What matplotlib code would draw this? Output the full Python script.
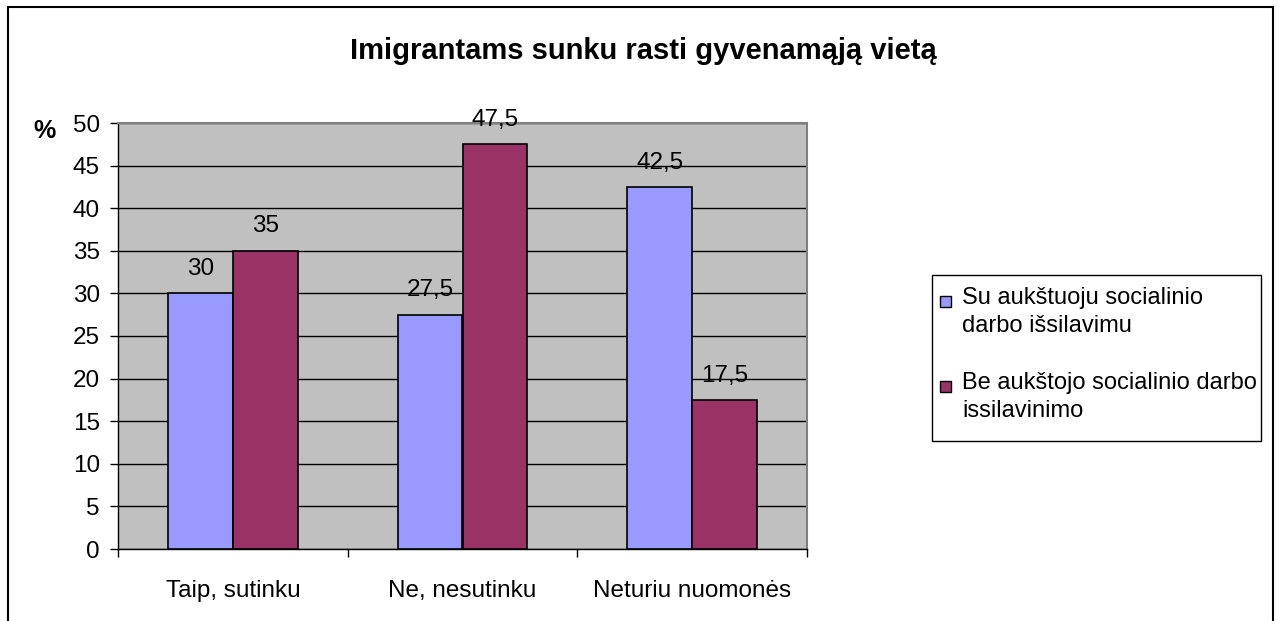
import matplotlib.pyplot as plt
import numpy as np
from matplotlib.patches import Rectangle

categories = ['Taip, sutinku', 'Ne, nesutinku', 'Neturiu nuomonės']
su_aukstuoju = [30, 27.5, 42.5]
be_aukstojo = [35, 47.5, 17.5]
series_names = ['Su aukštuoju socialinio\ndarbo išsilavimu',
                'Be aukštojo socialinio darbo\nissilavinimo']
colors = ['#9999FF', '#993366']
yticks = list(range(0, 55, 5))
title = 'Imigrantams sunku rasti gyvenamąją vietą'

W, H = 1279, 621
plt.rcParams['font.family'] = ['Liberation Sans', 'DejaVu Sans']


def fx(x):
    return x / W


def fy(y):
    return 1 - y / H


def fmt(v):
    return ('%g' % v).replace('.', ',')


def main():
    fig = plt.figure(figsize=(W / 100, H / 100), dpi=100)
    fig.patch.set_facecolor('white')

    # outer chart border
    fig.add_artist(Rectangle((fx(8), fy(640)), fx(1273) - fx(8), fy(7) - fy(640),
                             transform=fig.transFigure, fill=False,
                             edgecolor='black', linewidth=1.5))

    ax = fig.add_axes([fx(118), fy(549), fx(807) - fx(118), fy(123) - fy(549)])
    ax.set_facecolor('#C0C0C0')
    x = np.arange(len(categories))
    w = 0.283
    b1 = ax.bar(x - w / 2, su_aukstuoju, w, color=colors[0], edgecolor='black', linewidth=1.2, zorder=3)
    b2 = ax.bar(x + w / 2, be_aukstojo, w, color=colors[1], edgecolor='black', linewidth=1.2, zorder=3)
    for bars in (b1, b2):
        for r in bars:
            ax.annotate(fmt(r.get_height()), (r.get_x() + r.get_width() / 2, r.get_height()),
                        xytext=(0, 17.5), textcoords='offset points',
                        ha='center', va='center', fontsize=17.5, zorder=4)

    ax.set_xlim(-0.5, len(categories) - 0.5)
    ax.set_ylim(0, 50)
    ax.set_yticks(yticks)
    ax.yaxis.grid(True, color='black', linewidth=1)
    ax.set_axisbelow(True)
    ax.tick_params(axis='y', direction='out', length=6, width=1, labelsize=17.5, pad=7)
    ax.set_xticks(x)
    ax.set_xticklabels(categories, fontsize=17.5)
    ax.tick_params(axis='x', which='major', length=0, pad=22)
    ax.set_xticks(np.arange(-0.5, len(categories)), minor=True)
    ax.tick_params(axis='x', which='minor', direction='out', length=6, width=1)
    for s in ('top', 'right'):
        ax.spines[s].set_color('#808080')
        ax.spines[s].set_linewidth(1.5)
    for s in ('left', 'bottom'):
        ax.spines[s].set_color('black')
        ax.spines[s].set_linewidth(1)

    fig.text(fx(643), fy(51), title, ha='center', va='center', fontsize=21, fontweight='bold')
    fig.text(fx(45), fy(131), '%', ha='center', va='center', fontsize=18, fontweight='bold')

    # legend
    fig.add_artist(Rectangle((fx(932), fy(441)), fx(1261) - fx(932), fy(275) - fy(441),
                             transform=fig.transFigure, facecolor='white',
                             edgecolor='black', linewidth=1))
    for i, (name, c) in enumerate(zip(series_names, colors)):
        ytop = 302 + i * 85
        fig.add_artist(Rectangle((fx(940), fy(ytop + 5)), fx(11), fy(0) - fy(11),
                                 transform=fig.transFigure, facecolor=c,
                                 edgecolor='black', linewidth=1))
        fig.text(fx(962), fy(ytop - 15), name, ha='left', va='top', fontsize=17,
                 linespacing=1.38)

    plt.savefig('out.png', dpi=100)


if __name__ == '__main__':
    main()
